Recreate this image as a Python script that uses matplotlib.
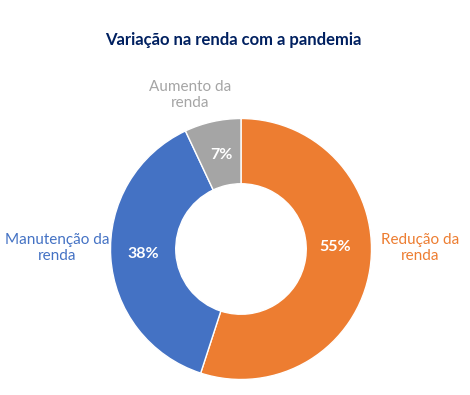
import matplotlib
matplotlib.use("Agg")
import matplotlib.pyplot as plt

categories = ["Redução da\nrenda", "Manutenção da\nrenda", "Aumento da\nrenda"]
values = [55, 38, 7]
colors = ["#ED7D31", "#4472C4", "#A5A5A5"]

W, H = 470, 395
fig = plt.figure(figsize=(W / 100, H / 100), dpi=100)
plt.rcParams['font.family'] = ['Lato', 'DejaVu Sans']

cx, cy, r = 241, 249, 130.5
ax = fig.add_axes([(cx - r) / W, (H - cy - r) / H, 2 * r / W, 2 * r / H])
wedges, _ = ax.pie(values, colors=colors, startangle=90, counterclock=False,
                   radius=1, wedgeprops=dict(width=0.5, edgecolor="white", linewidth=1))
ax.set_xlim(-1, 1)
ax.set_ylim(-1, 1)
ax.set_aspect("equal")
ax.axis("off")

def px(x, y):
    return x / W, 1 - y / H

pct_pos = [(335, 247), (143, 254), (221, 155)]
for (x, y), v in zip(pct_pos, values):
    fig.text(*px(x, y), f"{v}%", ha="center", va="center", color="white",
             fontsize=11.5, fontweight="bold")

fig.text(*px(233, 40), "Variação na renda com a pandemia", ha="center", va="center",
         fontsize=12, fontweight="bold", color="#002060")

label_pos = [(420, 248), (57, 248), (190, 95)]
for (x, y), lab, c in zip(label_pos, categories, colors):
    fig.text(*px(x, y), lab, ha="center", va="center", fontsize=11, color=c,
             linespacing=1.2)

fig.savefig("out.png", dpi=100)
